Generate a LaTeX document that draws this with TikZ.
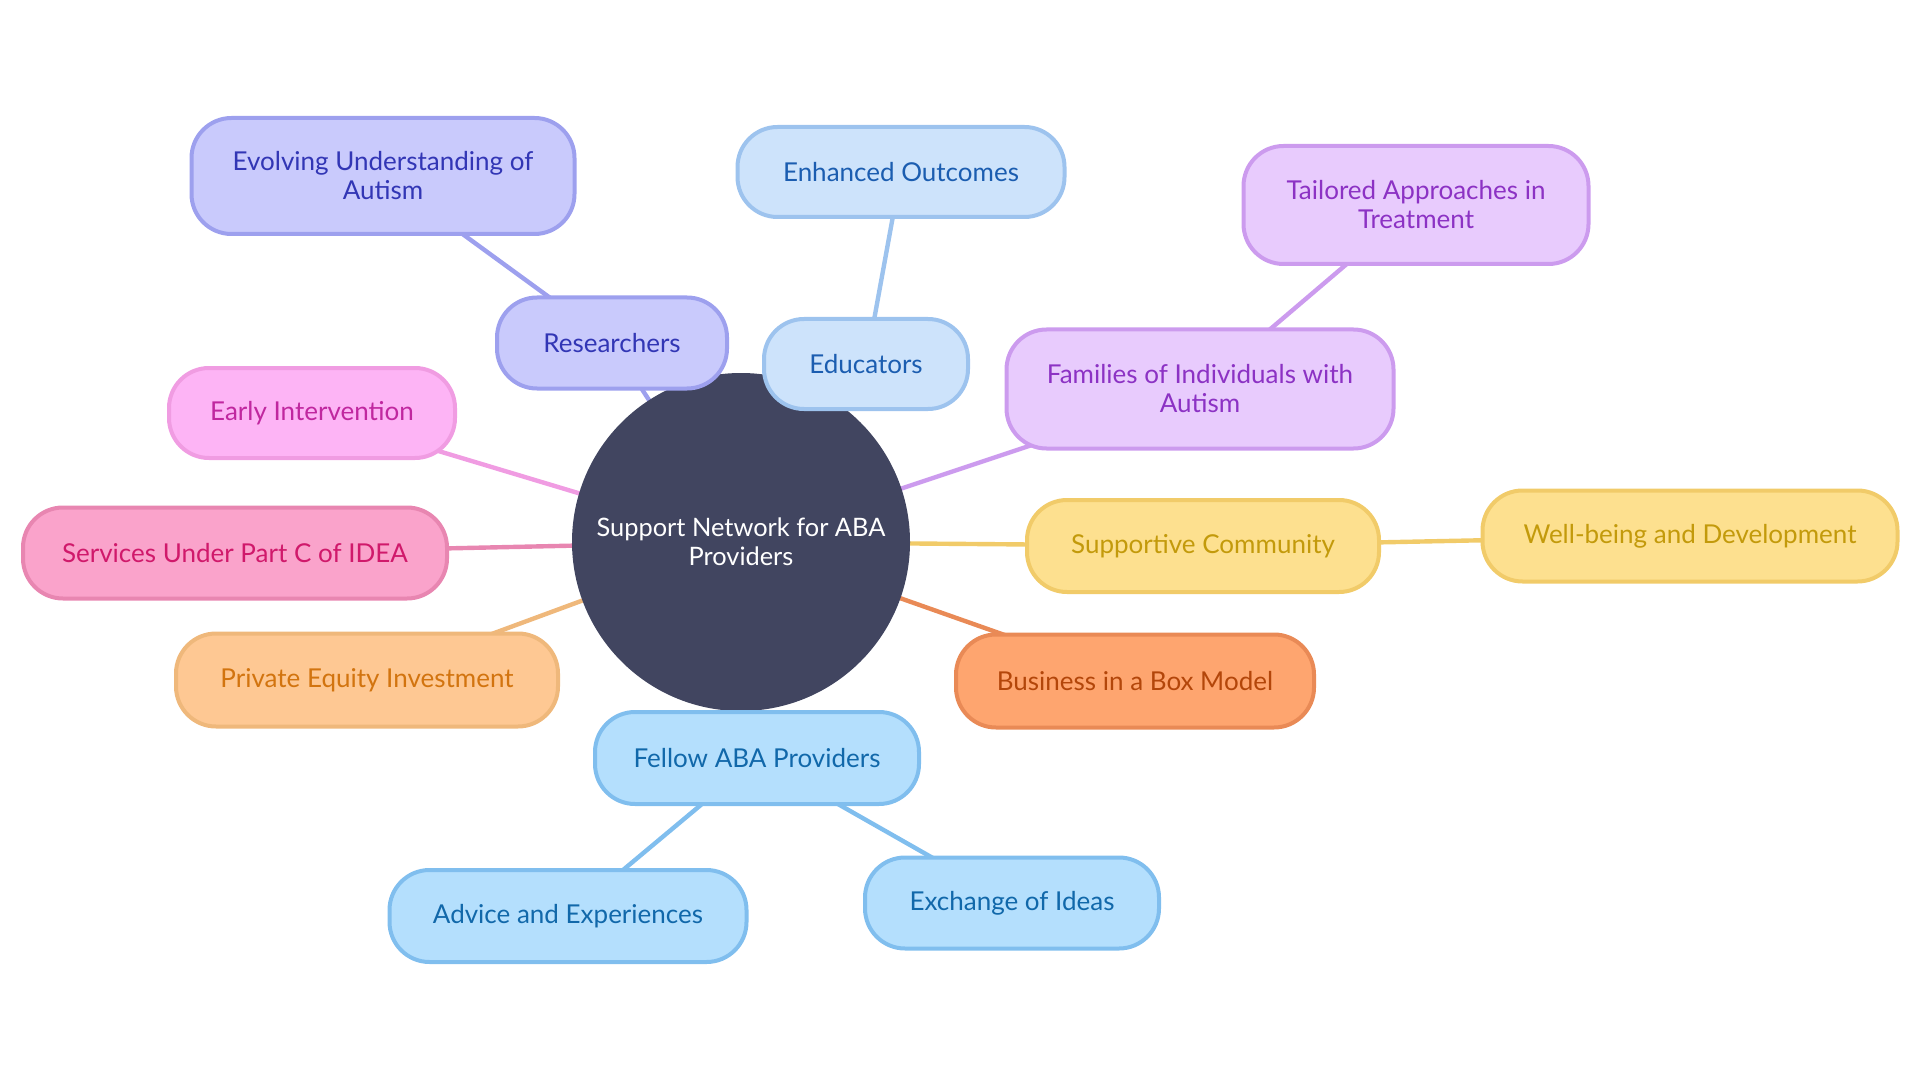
\documentclass[tikz,border=0pt]{standalone}
\usepackage{fontspec}
\setmainfont{Lato}
\usetikzlibrary{backgrounds}
\definecolor{resF}{HTML}{C9CAFC}\definecolor{resD}{HTML}{9DA0EE}\definecolor{resT}{HTML}{3236B5}
\definecolor{eduF}{HTML}{CDE3FB}\definecolor{eduD}{HTML}{9DC3EE}\definecolor{eduT}{HTML}{1B5DB0}
\definecolor{famF}{HTML}{E8CBFD}\definecolor{famD}{HTML}{CC9BEE}\definecolor{famT}{HTML}{8C32C4}
\definecolor{earF}{HTML}{FDB4F5}\definecolor{earD}{HTML}{F09CE2}\definecolor{earT}{HTML}{C0279F}
\definecolor{serF}{HTML}{FAA3CB}\definecolor{serD}{HTML}{E886B1}\definecolor{serT}{HTML}{D0196B}
\definecolor{supF}{HTML}{FDE08F}\definecolor{supD}{HTML}{F1CB69}\definecolor{supT}{HTML}{C39A0B}
\definecolor{priF}{HTML}{FEC893}\definecolor{priD}{HTML}{EFB87B}\definecolor{priT}{HTML}{D2740F}
\definecolor{busF}{HTML}{FEA56F}\definecolor{busD}{HTML}{E98A56}\definecolor{busT}{HTML}{B3460A}
\definecolor{felF}{HTML}{B4DFFD}\definecolor{felD}{HTML}{80BEEE}\definecolor{felT}{HTML}{1168AA}
\definecolor{ctr}{HTML}{414560}
\tikzset{
  box/.style={draw, rounded corners=20pt, line width=2pt, align=center, inner sep=0pt,
    font=\fontsize{13}{14.5}\selectfont},
  res/.style={box, fill=resF, draw=resD, text=resT},
  edu/.style={box, fill=eduF, draw=eduD, text=eduT},
  fam/.style={box, fill=famF, draw=famD, text=famT},
  ear/.style={box, fill=earF, draw=earD, text=earT},
  ser/.style={box, fill=serF, draw=serD, text=serT},
  sup/.style={box, fill=supF, draw=supD, text=supT},
  pri/.style={box, fill=priF, draw=priD, text=priT},
  bus/.style={box, fill=busF, draw=busD, text=busT},
  fel/.style={box, fill=felF, draw=felD, text=felT},
  edge/.style={line width=2.2pt},
}
\begin{document}
\begin{tikzpicture}[x=0.5pt, y=-0.5pt]
\useasboundingbox (0,0) rectangle (1920,1080);
\node[circle, fill=ctr, text=white, minimum size=169pt, inner sep=0pt, align=center,
  font=\fontsize{12.7}{14.5}\selectfont] (c) at (741,542) {Support Network for ABA\\Providers};
\node[res, minimum width=191.5pt, minimum height=58pt] (evo) at (383,176) {Evolving Understanding of\\Autism};
\node[res, minimum width=115pt, minimum height=45.5pt] (resn) at (612,343) {Researchers};
\node[edu, minimum width=163.5pt, minimum height=45pt] (enh) at (901,172) {Enhanced Outcomes};
\node[edu, minimum width=102pt, minimum height=45pt] (edu) at (866,364) {Educators};
\node[fam, minimum width=172.5pt, minimum height=59pt] (tai) at (1416,205) {Tailored Approaches in\\Treatment};
\node[fam, minimum width=193.5pt, minimum height=59.5pt] (fam) at (1200,389) {Families of Individuals with\\Autism};
\node[ear, minimum width=143pt, minimum height=45pt] (ear) at (312,413) {Early Intervention};
\node[ser, minimum width=212pt, minimum height=45.5pt] (ser) at (235,553) {Services Under Part C of IDEA};
\node[sup, minimum width=176pt, minimum height=46pt] (sup) at (1203,546) {Supportive Community};
\node[sup, minimum width=207.5pt, minimum height=45.5pt] (wel) at (1690,536) {Well-being and Development};
\node[pri, minimum width=191pt, minimum height=46.5pt] (pri) at (367,680) {Private Equity Investment};
\node[bus, minimum width=179pt, minimum height=46.5pt] (bus) at (1135,681) {Business in a Box Model};
\node[fel, minimum width=162pt, minimum height=46pt] (fel) at (757,758) {Fellow ABA Providers};
\node[fel, minimum width=178.5pt, minimum height=46pt] (adv) at (568,916) {Advice and Experiences};
\node[fel, minimum width=147pt, minimum height=45.5pt] (exc) at (1012,903) {Exchange of Ideas};
\begin{scope}[on background layer]
\draw[edge, resD] (c.center) -- (resn.center);
\draw[edge, resD] (resn.center) -- (evo.center);
\draw[edge, eduD] (c.center) -- (edu.center);
\draw[edge, eduD] (edu.center) -- (enh.center);
\draw[edge, famD] (c.center) -- (fam.center);
\draw[edge, famD] (fam.center) -- (tai.center);
\draw[edge, earD] (c.center) -- (ear.center);
\draw[edge, serD] (c.center) -- (ser.center);
\draw[edge, supD] (c.center) -- (sup.center);
\draw[edge, supD] (sup.center) -- (wel.center);
\draw[edge, priD] (c.center) -- (pri.center);
\draw[edge, busD] (c.center) -- (bus.center);
\draw[edge, felD] (c.center) -- (fel.center);
\draw[edge, felD] (fel.center) -- (adv.center);
\draw[edge, felD] (fel.center) -- (exc.center);
\end{scope}
\end{tikzpicture}
\end{document}
